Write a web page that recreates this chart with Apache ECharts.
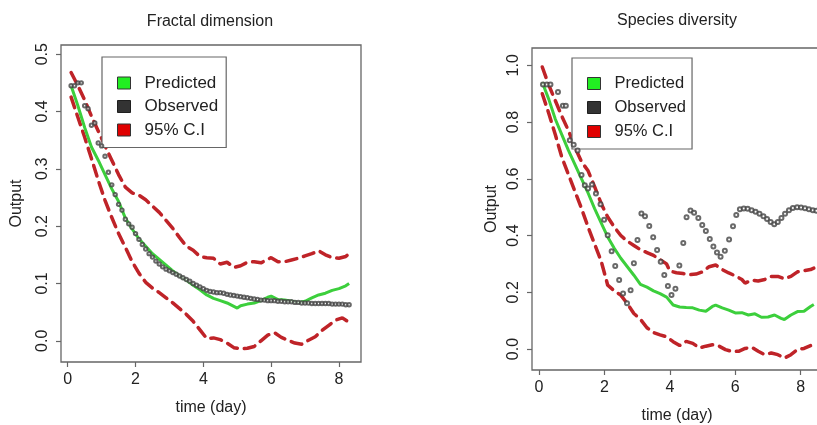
<!DOCTYPE html>
<html>
<head>
<meta charset="utf-8">
<title>Fractal dimension / Species diversity</title>
<script src="https://cdn.jsdelivr.net/npm/echarts@6/dist/echarts.min.js"></script>
<style>
html, body { margin: 0; padding: 0; background: #fff; }
#chart { width: 817px; height: 425px; }
</style>
</head>
<body>
<div id="chart"></div>
<script>
// ---- data ----
var xTicks = [0, 2, 4, 6, 8];

// Fractal dimension panel
var fdObserved = [
  [0.1,.445],[0.2,.445],[0.3,.450],[0.4,.450],[0.5,.410],[0.6,.405],[0.7,.376],[0.8,.380],[0.9,.345],[1.0,.340],
  [1.1,.322],[1.2,.294],[1.3,.272],[1.4,.255],[1.5,.238],[1.6,.228],[1.7,.212],[1.8,.204],[1.9,.198],[2.0,.187],
  [2.1,.177],[2.2,.168],[2.3,.160],[2.4,.152],[2.5,.146],[2.6,.139],[2.7,.134],[2.8,.129],[2.9,.125],[3.0,.122],
  [3.1,.119],[3.2,.116],[3.3,.113],[3.4,.110],[3.5,.107],[3.6,.104],[3.7,.100],[3.8,.097],[3.9,.094],[4.0,.091],
  [4.1,.088],[4.2,.086],[4.3,.085],[4.4,.084],[4.5,.084],[4.6,.083],[4.7,.081],[4.8,.080],[4.9,.079],[5.0,.078],
  [5.1,.077],[5.2,.076],[5.3,.075],[5.4,.074],[5.5,.073],[5.6,.072],[5.7,.071],[5.8,.071],[5.9,.070],[6.0,.070],
  [6.1,.070],[6.2,.069],[6.3,.069],[6.4,.068],[6.5,.068],[6.6,.068],[6.7,.067],[6.8,.067],[6.9,.066],[7.0,.066],
  [7.1,.066],[7.2,.065],[7.3,.065],[7.4,.065],[7.5,.065],[7.6,.065],[7.7,.065],[7.8,.064],[7.9,.064],[8.0,.064],
  [8.1,.064],[8.2,.063],[8.3,.063]
];
var fdPredicted = [
  [0.1,.445],[0.3,.410],[0.5,.372],[0.7,.338],[0.9,.315],[1.1,.290],[1.3,.265],[1.5,.243],[1.7,.214],[1.9,.195],
  [2.1,.178],[2.3,.165],[2.5,.152],[2.7,.142],[2.9,.132],[3.1,.122],[3.3,.113],[3.5,.106],[3.7,.097],[3.9,.089],
  [4.1,.080],[4.3,.074],[4.5,.070],[4.7,.066],[4.9,.060],[5.0,.057],[5.1,.061],[5.3,.064],[5.5,.066],[5.7,.070],
  [5.9,.076],[6.0,.078],[6.2,.072],[6.4,.071],[6.6,.069],[6.8,.067],[7.0,.069],[7.2,.075],[7.4,.080],[7.6,.083],
  [7.8,.088],[8.0,.091],[8.2,.096],[8.3,.100]
];
var fdUpper = [
  [0.1,.468],[0.3,.445],[0.5,.420],[0.7,.392],[0.9,.366],[1.1,.340],[1.3,.315],[1.5,.290],[1.7,.268],[1.9,.258],
  [2.1,.254],[2.3,.246],[2.5,.235],[2.7,.224],[2.9,.210],[3.1,.196],[3.3,.180],[3.5,.165],[3.7,.158],[3.9,.147],
  [4.1,.145],[4.3,.144],[4.5,.134],[4.7,.137],[4.9,.128],[5.1,.131],[5.3,.137],[5.5,.138],[5.7,.136],[5.9,.142],
  [6.0,.145],[6.2,.138],[6.4,.138],[6.6,.141],[6.8,.144],[7.0,.148],[7.2,.152],[7.4,.157],[7.6,.150],[7.8,.145],
  [8.0,.144],[8.2,.147],[8.3,.152]
];
var fdLower = [
  [0.1,.425],[0.3,.390],[0.5,.355],[0.7,.318],[0.9,.280],[1.1,.245],[1.3,.215],[1.5,.187],[1.7,.163],[1.9,.138],
  [2.1,.118],[2.3,.102],[2.5,.092],[2.7,.084],[2.9,.075],[3.1,.066],[3.3,.056],[3.5,.046],[3.7,.034],[3.9,.019],
  [4.1,.004],[4.3,.005],[4.5,.002],[4.7,-.004],[4.9,-.012],[5.1,-.014],[5.3,-.013],[5.5,-.010],[5.7,.000],[5.9,.010],
  [6.1,.014],[6.3,.006],[6.5,.001],[6.7,-.004],[6.9,-.006],[7.1,.001],[7.3,.007],[7.5,.018],[7.7,.027],[7.9,.036],
  [8.1,.040],[8.3,.032]
];

// Species diversity panel
var sdObserved = [
  [0.12,.932],[0.24,.932],[0.35,.932],[0.58,.906],[0.73,.857],[0.82,.857],[0.94,.736],[1.06,.720],[1.18,.700],[1.3,.613],
  [1.4,.577],[1.5,.566],[1.62,.580],[1.74,.548],[1.88,.510],[1.99,.456],[2.1,.401],[2.22,.345],[2.33,.293],[2.45,.243],
  [2.57,.196],[2.69,.161],[2.8,.207],[2.9,.302],[3.01,.384],[3.13,.478],[3.24,.468],[3.37,.434],[3.49,.394],[3.61,.349],
  [3.72,.308],[3.83,.261],[3.94,.222],[4.05,.190],[4.17,.212],[4.29,.294],[4.41,.374],[4.51,.464],[4.63,.488],[4.74,.480],
  [4.87,.462],[4.99,.437],[5.1,.416],[5.22,.388],[5.33,.361],[5.44,.340],[5.55,.325],[5.68,.346],[5.81,.386],[5.93,.433],
  [6.03,.472],[6.14,.493],[6.26,.495],[6.38,.494],[6.5,.489],[6.62,.484],[6.74,.477],[6.86,.468],[6.97,.458],[7.08,.448],
  [7.19,.440],[7.3,.448],[7.41,.462],[7.52,.477],[7.64,.489],[7.76,.497],[7.89,.500],[8.01,.499],[8.13,.496],[8.25,.493],
  [8.37,.489],[8.48,.487]
];
var sdPredicted = [
  [0.1,.940],[0.3,.880],[0.5,.810],[0.7,.755],[0.9,.700],[1.1,.650],[1.3,.600],[1.5,.550],[1.7,.495],[1.9,.445],
  [2.1,.395],[2.3,.355],[2.5,.320],[2.7,.290],[2.9,.260],[3.1,.228],[3.3,.218],[3.5,.205],[3.7,.195],[3.9,.183],
  [4.1,.155],[4.3,.148],[4.5,.146],[4.7,.145],[4.9,.137],[5.1,.133],[5.3,.150],[5.4,.155],[5.6,.145],[5.8,.137],
  [6.0,.127],[6.2,.128],[6.4,.120],[6.6,.124],[6.8,.112],[7.0,.113],[7.2,.120],[7.4,.108],[7.5,.104],[7.7,.120],
  [7.9,.132],[8.1,.133],[8.3,.150],[8.4,.157]
];
var sdUpper = [
  [0.1,.994],[0.3,.930],[0.5,.875],[0.7,.820],[0.9,.770],[1.1,.710],[1.3,.660],[1.5,.628],[1.7,.572],[1.9,.513],
  [2.1,.465],[2.3,.430],[2.5,.400],[2.7,.380],[2.9,.365],[3.1,.350],[3.3,.340],[3.5,.330],[3.7,.315],[3.9,.300],
  [4.0,.275],[4.2,.269],[4.4,.266],[4.6,.262],[4.8,.264],[5.0,.272],[5.2,.290],[5.4,.296],[5.6,.280],[5.8,.268],
  [6.0,.258],[6.2,.245],[6.3,.232],[6.5,.243],[6.7,.240],[6.9,.245],[7.1,.256],[7.3,.256],[7.5,.248],[7.7,.256],
  [7.9,.272],[8.1,.276],[8.3,.280],[8.4,.285]
];
var sdLower = [
  [0.1,.900],[0.3,.830],[0.5,.755],[0.7,.675],[0.9,.615],[1.1,.555],[1.3,.495],[1.5,.430],[1.7,.370],[1.9,.310],
  [2.1,.225],[2.3,.205],[2.5,.190],[2.7,.160],[2.9,.125],[3.1,.105],[3.3,.075],[3.5,.058],[3.7,.050],[3.9,.043],
  [4.1,.026],[4.3,.012],[4.5,.027],[4.7,.020],[4.9,.004],[5.1,.010],[5.3,.015],[5.5,.010],[5.7,-.002],[5.9,-.009],
  [6.1,-.008],[6.3,.002],[6.5,.006],[6.7,-.008],[6.9,-.020],[7.1,-.014],[7.3,-.020],[7.5,-.032],[7.7,-.020],[7.9,-.002],
  [8.1,.002],[8.3,.012]
];

// ---- styles ----
var FONT = '"Liberation Sans", Arial, sans-serif';
var ink = '#222';
var frame = '#666';
var green = '#3ccf3c';
var red = '#bf2328';

function xAxisFor(idx, min, max, gap) {
  return {
    type: 'value', gridIndex: idx, min: min, max: max,
    name: 'time (day)', nameLocation: 'middle', nameGap: gap,
    nameTextStyle: { fontFamily: FONT, fontSize: 16, color: ink },
    axisLine: { show: false, onZero: false },
    axisTick: { show: true, length: 5, customValues: xTicks, lineStyle: { color: frame, width: 1.2 } },
    axisLabel: { customValues: xTicks, margin: 10, fontFamily: FONT, fontSize: 16, color: ink },
    splitLine: { show: false }
  };
}

function yAxisFor(idx, min, max, ticks, gap) {
  return {
    type: 'value', gridIndex: idx, min: min, max: max,
    name: 'Output', nameLocation: 'middle', nameGap: gap, nameRotate: 90,
    nameTextStyle: { fontFamily: FONT, fontSize: 16, color: ink },
    axisLine: { show: false, onZero: false },
    axisTick: { show: true, length: 5, customValues: ticks, lineStyle: { color: frame, width: 1.2 } },
    axisLabel: {
      customValues: ticks, rotate: 90, margin: 10, fontFamily: FONT, fontSize: 16, color: ink,
      formatter: function (v) { return v.toFixed(1); }
    },
    splitLine: { show: false }
  };
}

function legendFor(left, top, fs, pad, gap) {
  return {
    left: left, top: top, orient: 'vertical',
    backgroundColor: '#fff', borderColor: frame, borderWidth: 1.2,
    padding: pad, itemWidth: 13, itemHeight: 12, itemGap: gap,
    selectedMode: false,
    textStyle: { fontFamily: FONT, fontSize: fs, color: ink, padding: [0, 0, 0, 9] },
    data: [
      { name: 'Predicted', icon: 'rect', itemStyle: { color: '#22ee22', borderColor: '#333', borderWidth: 1 } },
      { name: 'Observed', icon: 'rect', itemStyle: { color: '#000', borderColor: '#000', borderWidth: 1 } },
      { name: '95% C.I', icon: 'rect', itemStyle: { color: '#e00000', borderColor: '#333', borderWidth: 1 } }
    ]
  };
}

function ciLine(idx, data) {
  return {
    type: 'line', name: '95% C.I', xAxisIndex: idx, yAxisIndex: idx, data: data,
    symbol: 'none', silent: true, z: 2,
    itemStyle: { color: red },
    lineStyle: { color: red, width: 3.5, type: [11, 7], cap: 'round' }
  };
}

function predLine(idx, data) {
  return {
    type: 'line', name: 'Predicted', xAxisIndex: idx, yAxisIndex: idx, data: data,
    symbol: 'none', silent: true, z: 3,
    itemStyle: { color: green },
    lineStyle: { color: green, width: 3 }
  };
}

function obsPoints(idx, data, size, bw) {
  return {
    type: 'scatter', name: 'Observed', xAxisIndex: idx, yAxisIndex: idx, data: data,
    symbol: 'emptyCircle', symbolSize: size, silent: true, z: 4,
    itemStyle: { color: '#444', borderWidth: bw }
  };
}

var chart = echarts.init(document.getElementById('chart'), null, { renderer: 'canvas' });
chart.setOption({
  animation: false,
  backgroundColor: '#fff',
  title: [
    { text: 'Fractal dimension', left: 210, top: 14, textAlign: 'center', padding: 0,
      textStyle: { fontFamily: FONT, fontSize: 16, fontWeight: 'normal', color: ink } },
    { text: 'Species diversity', left: 677, top: 13, textAlign: 'center', padding: 0,
      textStyle: { fontFamily: FONT, fontSize: 16, fontWeight: 'normal', color: ink } }
  ],
  grid: [
    { left: 61, top: 45, width: 300, height: 317, show: true, borderColor: frame, borderWidth: 1.3,
      backgroundColor: '#fff', outerBoundsMode: 'none' },
    { left: 532, top: 48, width: 290, height: 322, show: true, borderColor: frame, borderWidth: 1.3,
      backgroundColor: '#fff', outerBoundsMode: 'none' }
  ],
  xAxis: [
    xAxisFor(0, -0.198, 8.65, 38),
    xAxisFor(1, -0.214, 8.65, 38)
  ],
  yAxis: [
    yAxisFor(0, -0.037, 0.516, [0, 0.1, 0.2, 0.3, 0.4, 0.5], 36),
    yAxisFor(1, -0.074, 1.061, [0, 0.2, 0.4, 0.6, 0.8, 1.0], 32)
  ],
  legend: [
    legendFor(102, 57, 17, [17.5, 8, 9, 15], 6.5),
    legendFor(572, 58, 16.5, [17, 6, 9, 15], 7)
  ],
  series: [
    ciLine(0, fdUpper),
    ciLine(0, fdLower),
    predLine(0, fdPredicted),
    obsPoints(0, fdObserved, 3.4, 0.7),
    ciLine(1, sdUpper),
    ciLine(1, sdLower),
    predLine(1, sdPredicted),
    obsPoints(1, sdObserved, 4, 0.8)
  ]
});
</script>
</body>
</html>
